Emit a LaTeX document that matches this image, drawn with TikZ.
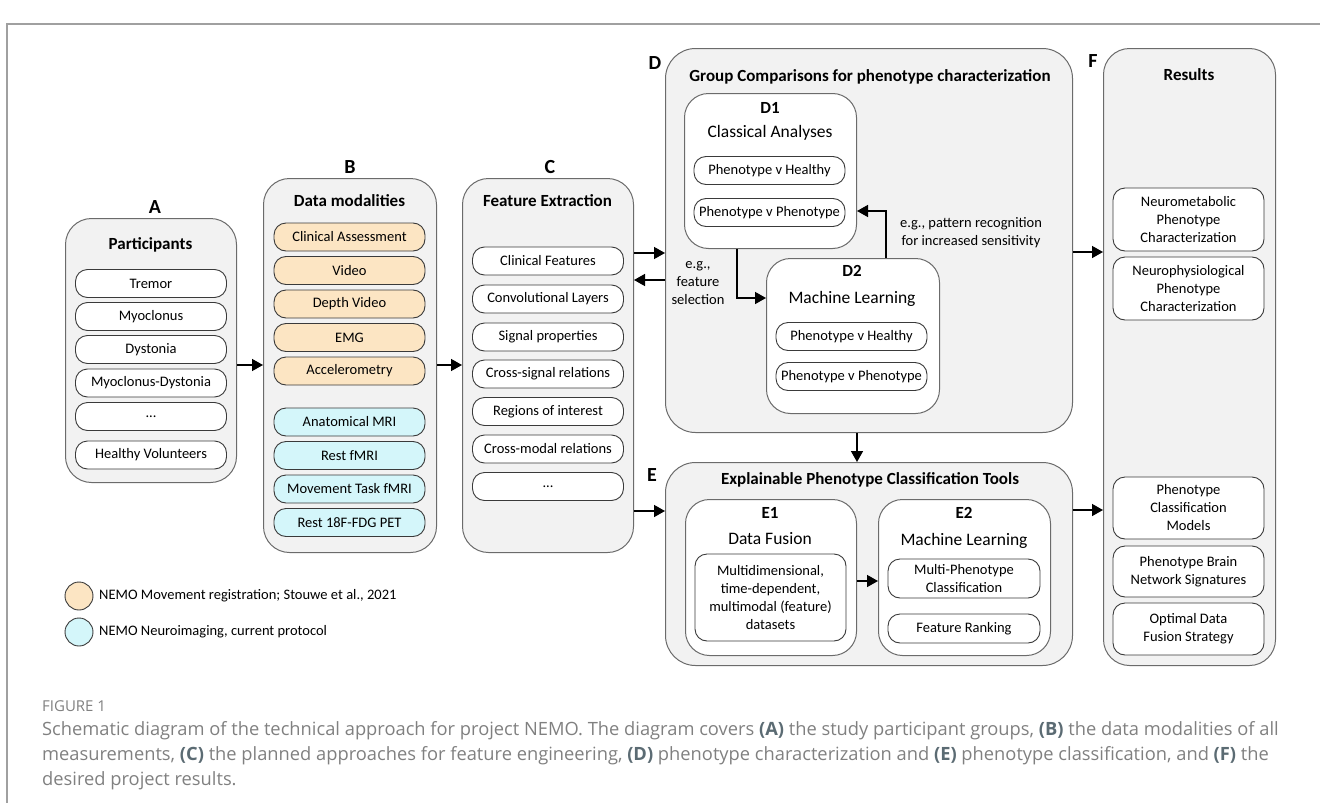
\documentclass[tikz,border=0pt]{standalone}
\usepackage{fontspec}
\setmainfont{Carlito}
\newfontfamily\capfont{Open Sans}
\usetikzlibrary{arrows.meta}
\definecolor{boxfill}{HTML}{F2F2F2}
\definecolor{bigline}{HTML}{6B6B6B}
\definecolor{itemline}{HTML}{3A3A3A}
\definecolor{movfill}{HTML}{FCE5C3}
\definecolor{imgfill}{HTML}{D4F6FA}
\definecolor{capgray}{HTML}{808080}
\definecolor{capbold}{HTML}{5B6B73}
\definecolor{framegray}{HTML}{A0A0A0}
\newcommand\fsLab{\fontsize{20}{24}\selectfont\bfseries}
\newcommand\fsTtl{\fontsize{17}{20}\selectfont\bfseries}
\newcommand\fsSub{\fontsize{17.5}{21}\selectfont}
\newcommand\fsItem{\fontsize{14.5}{18}\selectfont}
\newcommand\fsCap{\capfont\fontsize{18.3}{25}\selectfont}
\newcommand\fsFig{\capfont\fontsize{15}{18}\selectfont}
\newcommand\cb[1]{{\bfseries\color{capbold}#1}}
\begin{document}
\begin{tikzpicture}[x=1pt,y=-1pt,
 bigbox/.style={draw=bigline, fill=boxfill, line width=1pt, rounded corners=26pt, anchor=north west, inner sep=0pt},
 subbox/.style={draw=bigline, fill=white, line width=1pt, rounded corners=24pt, anchor=north west, inner sep=0pt},
 item/.style={draw=itemline, fill=white, line width=0.9pt, rounded corners=12pt, minimum width=151pt, minimum height=28pt, inner sep=0pt, font=\fsItem, align=center},
 mov/.style={item, fill=movfill},
 img/.style={item, fill=imgfill},
 lab/.style={font=\fsLab, inner sep=0pt},
 ttl/.style={font=\fsTtl, inner sep=0pt},
 sub/.style={font=\fsSub, inner sep=0pt},
 note/.style={font=\fsItem, align=center, inner sep=0pt},
 arr/.style={line width=1.5pt, -{Triangle[length=11pt,width=12pt]}},
 capl/.style={font=\fsCap, text=capgray, anchor=west, inner sep=0pt},
 legc/.style={circle, draw=itemline, line width=0.9pt, minimum size=28pt, inner sep=0pt},
 legt/.style={font=\fsItem, anchor=west, inner sep=0pt}
]
\useasboundingbox (0,0) rectangle (1320,803);
% frame
\coordinate (fr1) at (7,803);
\coordinate (fr2) at (7,24);
\coordinate (fr3) at (1320,24);
\draw[framegray, line width=1.2pt] (fr1) -- (fr2) -- (fr3);

% big boxes
\node[bigbox, minimum width=171, minimum height=264] (A) at (65,218) {};
\node[bigbox, minimum width=173, minimum height=374] (B) at (263,178) {};
\node[bigbox, minimum width=171, minimum height=374] (C) at (462,178) {};
\node[bigbox, minimum width=407, minimum height=384, rounded corners=30pt] (D) at (665,48) {};
\node[bigbox, minimum width=407, minimum height=203, rounded corners=30pt] (E) at (665,462) {};
\node[bigbox, minimum width=172, minimum height=617] (F) at (1103,48) {};
\node[subbox, minimum width=172, minimum height=155] (D1) at (684,93) {};
\node[subbox, minimum width=173, minimum height=155] (D2) at (766,258) {};
\node[subbox, minimum width=171, minimum height=156] (E1) at (685,499) {};
\node[subbox, minimum width=172, minimum height=156] (E2) at (878,499) {};

% letters
\node[lab] (lA) at (155,207) {A};
\node[lab] (lB) at (350,167) {B};
\node[lab] (lC) at (550,167) {C};
\node[lab] (lD) at (655,63) {D};
\node[lab] (lE) at (652,475) {E};
\node[lab] (lF) at (1093,61) {F};

% titles
\node[ttl] (tA) at (150.5,245) {Participants};
\node[ttl] (tB) at (349.5,201) {Data modalities};
\node[ttl] (tC) at (547.5,201) {Feature Extraction};
\node[ttl] (tD) at (870,77) {Group Comparisons for phenotype characterization};
\node[ttl] (tE) at (870,480) {Explainable Phenotype Classification Tools};
\node[ttl] (tF) at (1189,75) {Results};
\node[ttl] (tD1) at (770,108) {D1};
\node[ttl] (tD2) at (852,271) {D2};
\node[ttl] (tE1) at (770,513) {E1};
\node[ttl] (tE2) at (964,513) {E2};
\node[sub] (sD1) at (770,133) {Classical Analyses};
\node[sub] (sD2) at (852,299) {Machine Learning};
\node[sub] (sE1) at (770,539) {Data Fusion};
\node[sub] (sE2) at (964,541) {Machine Learning};

% A items
\node[item] (a1) at (151,283.5) {Tremor};
\node[item] (a2) at (151,316.5) {Myoclonus};
\node[item] (a3) at (151,349.5) {Dystonia};
\node[item] (a4) at (151,383) {Myoclonus-Dystonia};
\node[item] (a5) at (151,416.5) {...};
\node[item] (a6) at (151,455) {Healthy Volunteers};

% B items
\node[mov] (b1) at (349.5,237) {Clinical Assessment};
\node[mov] (b2) at (349.5,270.5) {Video};
\node[mov] (b3) at (349.5,304) {Depth Video};
\node[mov] (b4) at (349.5,337.5) {EMG};
\node[mov] (b5) at (349.5,371) {Accelerometry};
\node[img] (b6) at (349.5,422) {Anatomical MRI};
\node[img] (b7) at (349.5,455.5) {Rest fMRI};
\node[img] (b8) at (349.5,489) {Movement Task fMRI};
\node[img] (b9) at (349.5,522.5) {Rest 18F-FDG PET};

% C items
\node[item] (c1) at (548,261) {Clinical Features};
\node[item] (c2) at (548,299) {Convolutional Layers};
\node[item] (c3) at (548,337) {Signal properties};
\node[item] (c4) at (548,374) {Cross-signal relations};
\node[item] (c5) at (548,411.5) {Regions of interest};
\node[item] (c6) at (548,449) {Cross-modal relations};
\node[item] (c7) at (548,486.5) {...};

% D items
\node[item] (d11) at (769.5,170.5) {Phenotype v Healthy};
\node[item] (d12) at (769.5,212.5) {Phenotype v Phenotype};
\node[item] (d21) at (851.5,336.5) {Phenotype v Healthy};
\node[item] (d22) at (851.5,376.5) {Phenotype v Phenotype};

% E items
\node[item, minimum height=87] (e11) at (770.5,597.5) {Multidimensional,\\time-dependent,\\multimodal (feature)\\datasets};
\node[item, minimum width=152, minimum height=39] (e21) at (964,578.5) {Multi-Phenotype\\Classification};
\node[item, minimum width=152, minimum height=29] (e22) at (964,628.5) {Feature Ranking};

% F items
\node[item, minimum height=63] (f1) at (1188.5,219.5) {Neurometabolic\\Phenotype\\Characterization};
\node[item, minimum height=63] (f2) at (1188.5,288.5) {Neurophysiological\\Phenotype\\Characterization};
\node[item, minimum height=62] (f3) at (1188.5,508) {Phenotype\\Classification\\Models};
\node[item, minimum height=51] (f4) at (1188.5,571.5) {Phenotype Brain\\Network Signatures};
\node[item, minimum height=52] (f5) at (1188.5,629) {Optimal Data\\Fusion Strategy};

% notes
\node[note] (n1) at (698,283) {e.g.,\\feature\\selection};
\node[note] (n2) at (971,233) {e.g., pattern recognition\\for increased sensitivity};

% connector coordinates
\coordinate (yab) at (0,365);
\coordinate (ycd) at (0,253);
\coordinate (ydc) at (0,280);
\coordinate (yce) at (0,511);
\coordinate (ydf) at (0,252);
\coordinate (yef) at (0,510);
\coordinate (ye12) at (0,581);
\coordinate (p12) at (737,298);
\coordinate (p21) at (886,211);

\draw[arr] (A.east |- yab) -- (B.west |- yab);
\draw[arr] (B.east |- yab) -- (C.west |- yab);
\draw[arr] (C.east |- ycd) -- (D.west |- ycd);
\draw[arr] (D.west |- ydc) -- (C.east |- ydc);
\draw[arr] (C.east |- yce) -- (E.west |- yce);
\draw[arr] (D.south -| D1.east) -- (E.north -| D1.east);
\draw[arr] (D.east |- ydf) -- (F.west |- ydf);
\draw[arr] (E.east |- yef) -- (F.west |- yef);
\draw[arr] (D1.south -| p12) |- (D2.west |- p12);
\draw[arr] (D2.north -| p21) |- (D1.east |- p21);
\draw[arr] (E1.east |- ye12) -- (E2.west |- ye12);

% legend
\node[legc, fill=movfill] (lg1) at (79,596) {};
\node[legt] (lgt1) at (99,596) {NEMO Movement registration; Stouwe et al., 2021};
\node[legc, fill=imgfill] (lg2) at (79,632) {};
\node[legt] (lgt2) at (99,632) {NEMO Neuroimaging, current protocol};

% caption
\node[capl, font=\fsFig] (fig) at (42,706) {FIGURE 1};
\node[capl] (cap1) at (42,731) {Schematic diagram of the technical approach for project NEMO. The diagram covers \cb{(A)} the study participant groups, \cb{(B)} the data modalities of all};
\node[capl] (cap2) at (42,756) {measurements, \cb{(C)} the planned approaches for feature engineering, \cb{(D)} phenotype characterization and \cb{(E)} phenotype classification, and \cb{(F)} the};
\node[capl] (cap3) at (42,781) {desired project results.};
\end{tikzpicture}
\end{document}
